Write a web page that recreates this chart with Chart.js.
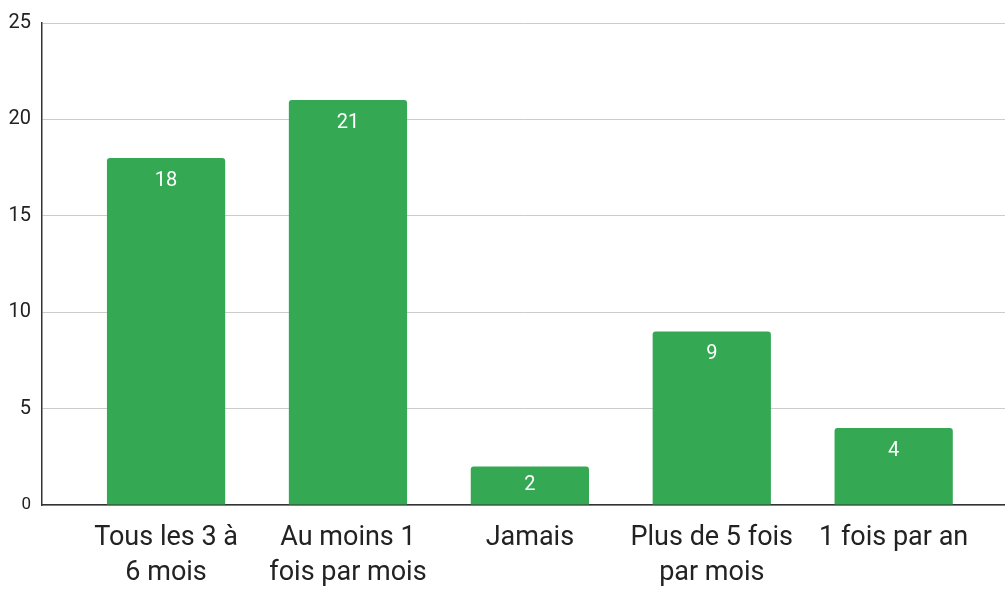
<!DOCTYPE html>
<html>
<head>
<meta charset="utf-8">
<script src="https://cdn.jsdelivr.net/npm/chart.js@4"></script>
<style>
  html, body { margin: 0; padding: 0; background: #fff; }
  #wrap { width: 1005px; height: 590px; }
</style>
</head>
<body>
<div id="wrap"><canvas id="chart" width="1005" height="590"></canvas></div>
<script>
// --- Données du graphique ---
const categories = [
    ['Tous les 3 à', '6 mois'],
    ['Au moins 1', 'fois par mois'],
    'Jamais',
    ['Plus de 5 fois', 'par mois'],
    '1 fois par an'
];
const counts = [18, 21, 2, 9, 4];
const yTicks = [0, 5, 10, 15, 20, 25];

const barColor = '#34a853';

// Petites étiquettes blanches à l'intérieur des barres
const barLabels = {
    id: 'barLabels',
    afterDatasetsDraw(chart) {
        const ctx = chart.ctx;
        const meta = chart.getDatasetMeta(0);
        ctx.save();
        ctx.fillStyle = '#ffffff';
        ctx.font = '20px Roboto';
        ctx.textAlign = 'center';
        ctx.textBaseline = 'middle';
        meta.data.forEach((bar, i) => {
            const mid = (bar.y + bar.base) / 2;
            const y = Math.min(bar.y + 23, mid);
            ctx.fillText(String(counts[i]), bar.x, y);
        });
        ctx.restore();
    }
};

new Chart(document.getElementById('chart'), {
    type: 'bar',
    data: {
        datasets: [{
            data: counts.map((v, i) => ({ x: i, y: v })),
            backgroundColor: barColor,
            borderRadius: { topLeft: 3, topRight: 3 },
            borderSkipped: 'bottom',
            categoryPercentage: 0.65,
            barPercentage: 1
        }]
    },
    options: {
        responsive: false,
        animation: false,
        layout: { padding: { top: 19, right: 0, left: 0, bottom: 0 } },
        plugins: { legend: { display: false }, tooltip: { enabled: false } },
        scales: {
            x: {
                type: 'linear',
                min: -0.682,
                max: 4.612,
                offset: false,
                afterBuildTicks: s => { s.ticks = categories.map((c, i) => ({ value: i })); },
                grid: { display: false, drawTicks: false, offset: false },
                border: { color: '#333333', width: 1.5 },
                ticks: {
                    color: '#222222',
                    font: { family: 'Roboto', size: 27, lineHeight: 1.3 },
                    padding: 16,
                    maxRotation: 0,
                    autoSkip: false,
                    callback: v => categories[v]
                },
                afterFit: s => { s.height = 85; }
            },
            y: {
                min: 0,
                max: 25,
                afterBuildTicks: s => { s.ticks = yTicks.map(v => ({ value: v })); },
                grid: { color: '#cccccc', lineWidth: 1, drawTicks: false },
                border: { color: '#333333', width: 1.5 },
                ticks: {
                    color: '#222222',
                    font: c => ({ family: 'Roboto', size: c.tick && c.tick.value === 0 ? 17 : 20 }),
                    padding: 11
                },
                afterFit: s => { s.width = 42; }
            }
        }
    },
    plugins: [barLabels]
});
</script>
</body>
</html>
